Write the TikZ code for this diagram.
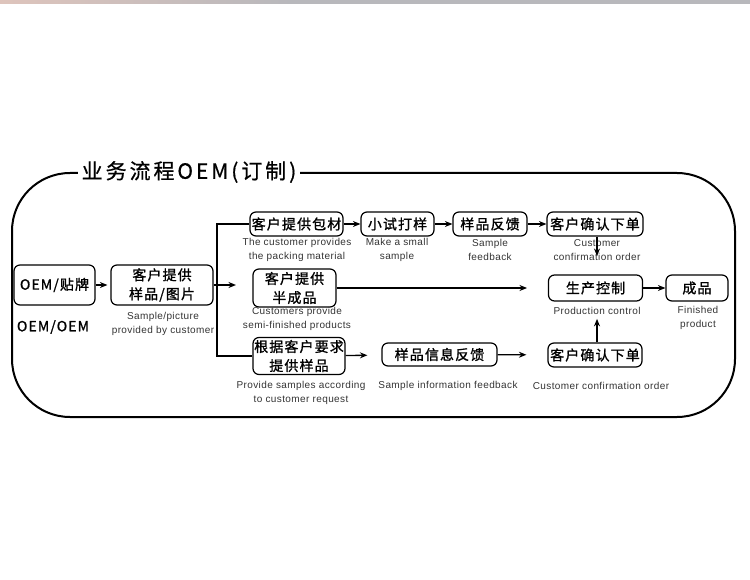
\documentclass[tikz,border=0pt]{standalone}
\usepackage{fontspec}
\setmainfont{Liberation Sans}
\newfontfamily\capfont[LetterSpace=4]{Liberation Sans}
\newfontfamily\cjk[LetterSpace=8,FakeBold=1.2]{Noto Sans CJK SC}
\newfontfamily\cjktitle[LetterSpace=14,FakeBold=0.6]{Noto Sans CJK SC}
\usetikzlibrary{arrows.meta}
\definecolor{bandpink}{RGB}{222,196,188}
\definecolor{bandgray}{RGB}{184,184,188}

\begin{document}
\begin{tikzpicture}[x=1pt,y=-1pt,
  box/.style={draw,rounded corners=6pt,line width=1.2pt,inner sep=0pt,align=center,
    font=\cjk\fontsize{14}{19}\selectfont},
  note/.style={inner sep=0pt,align=center,text=black!80,font=\capfont\fontsize{10}{14}\selectfont},
  link/.style={line width=1.3pt,-{Stealth[length=7.5pt,width=6pt]}},
  branch/.style={line width=1.3pt}]
\useasboundingbox (0,0) rectangle (750,580);
\shade[left color=bandpink,right color=bandgray] (0,0) rectangle (290,4);
\fill[bandgray] (290,0) rectangle (750,4);

% frame and title
\draw[line width=2pt,rounded corners=58pt] (12,173) rectangle (735,417);
\node[fill=white,inner sep=4pt,font=\cjktitle\fontsize{21}{21}\selectfont] (title) at (189,172) {业务流程OEM(订制)};

% first column
\node[box,minimum width=81pt,minimum height=40pt] (oem) at (54.5,285) {OEM/贴牌};
\node[inner sep=0pt,font=\cjk\fontsize{14}{14}\selectfont] (oem-t) at (53,327) {OEM/OEM};
\node[box,minimum width=102pt,minimum height=40pt] (smp) at (162,285) {客户提供\\样品/图片};
\node[note] (smp-t) at (163,324) {Sample/picture\\provided by customer};

% upper row
\node[box,minimum width=93pt,minimum height=24pt] (pack) at (296.5,224) {客户提供包材};
\node[note] (pack-t) at (297,250) {The customer provides\\the packing material};
\node[box,minimum width=73pt,minimum height=24pt] (trial) at (397.5,224) {小试打样};
\node[note] (trial-t) at (397,250) {Make a small\\sample};
\node[box,minimum width=74pt,minimum height=24pt] (fb) at (490,224) {样品反馈};
\node[note] (fb-t) at (490,250) {Sample\\feedback};
\node[box,minimum width=96pt,minimum height=24pt] (conf1) at (595,224) {客户确认下单};
\node[note] (conf1-t) at (597,250) {Customer\\confirmation order};

% middle row
\node[box,minimum width=83pt,minimum height=38pt] (semi) at (294.5,288) {客户提供\\半成品};
\node[note] (semi-t) at (297,319) {Customers provide\\semi-finished products};
\node[box,minimum width=94pt,minimum height=26pt] (prod) at (595.5,288) {生产控制};
\node[note] (prod-t) at (597,311) {Production control};
\node[box,minimum width=62pt,minimum height=26pt] (fin) at (697,288) {成品};
\node[note] (fin-t) at (698,318) {Finished\\product};

% lower row
\node[box,minimum width=92pt,minimum height=37pt] (req) at (299,356) {根据客户要求\\提供样品};
\node[note] (req-t) at (301,393) {Provide samples according\\to customer request};
\node[box,minimum width=115pt,minimum height=23pt] (info) at (439.5,354.5) {样品信息反馈};
\node[note] (info-t) at (448,386) {Sample information feedback};
\node[box,minimum width=94pt,minimum height=24pt] (conf2) at (595,355) {客户确认下单};
\node[note] (conf2-t) at (601,386) {Customer confirmation order};

\coordinate (split) at (217,285);
\coordinate (smp-end) at (236,285);
\coordinate (semi-end) at (527,288);
\coordinate (conf1-end) at (597,256);

\draw[link,shorten >=3pt] (oem) -- (smp);
\draw[link] (smp.east) -- (smp-end);
\draw[branch] (pack.west) -| (split) |- (req.west);
\draw[link] (pack) -- (trial);
\draw[link] (trial) -- (fb);
\draw[link] (fb) -- (conf1);
\draw[link] (conf1.south -| conf1-end) -- (conf1-end);
\draw[link] (semi.east) -- (semi-end);
\draw[link] (prod) -- (fin);
\draw[link,shorten >=14pt] (req) -- (info);
\draw[link,shorten >=21pt] (info) -- (conf2);
\draw[link,shorten >=4pt] (conf2.north -| prod-t) -- (prod-t.south);
\end{tikzpicture}
\end{document}
